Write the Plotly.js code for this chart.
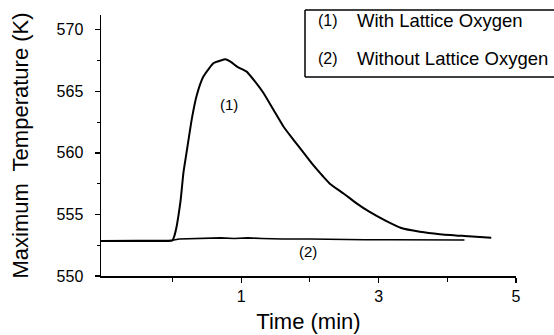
<!DOCTYPE html>
<html>
<head>
<meta charset="utf-8">
<script src="https://cdn.plot.ly/plotly-3.0.1.min.js"></script>
<style>html,body{margin:0;padding:0;background:#fff;}#chart{width:554px;height:335px;}</style>
</head>
<body>
<div id="chart"></div>
<script>
// Series (1) With Lattice Oxygen
const time1 = [-1.04, -0.5, 0.0, 0.03, 0.06, 0.09, 0.12, 0.16, 0.21, 0.28, 0.35, 0.45, 0.6, 0.7, 0.77, 0.85, 0.94, 1.08, 1.2, 1.32, 1.47, 1.62, 1.77, 1.91, 2.05, 2.19, 2.29, 2.49, 2.68, 2.87, 3.1, 3.33, 3.6, 3.89, 4.25, 4.64];
const temp1 = [552.85, 552.85, 552.9, 553.3, 554.0, 555.0, 556.2, 558.4, 560.2, 562.7, 564.6, 566.2, 567.3, 567.5, 567.6, 567.4, 567.0, 566.6, 565.8, 564.9, 563.5, 562.1, 561.0, 560.0, 559.0, 558.1, 557.5, 556.7, 555.9, 555.2, 554.5, 553.9, 553.6, 553.4, 553.25, 553.1];
// Series (2) Without Lattice Oxygen
const time2 = [-1.04, -0.5, 0.0, 0.1, 0.3, 0.5, 0.7, 0.9, 1.1, 1.3, 1.6, 2.0, 2.4, 2.8, 3.2, 3.6, 4.0, 4.25];
const temp2 = [552.85, 552.85, 552.9, 553.0, 553.05, 553.05, 553.1, 553.05, 553.1, 553.05, 553.0, 553.0, 552.95, 552.95, 552.95, 552.95, 552.93, 552.93];
const xTickVals = [1, 3, 5];
const xTickText = ['1', '3', '5'];
const yTickVals = [550, 555, 560, 565, 570];
const legendLabels = ['(1)', '(2)'];
const legendNames = ['With Lattice Oxygen', 'Without Lattice Oxygen'];
const curveLabels = ['(1)', '(2)'];

const font = 'Liberation Sans, Arial, sans-serif';
const traces = [
  {x: time1, y: temp1, mode: 'lines', line: {color: '#000', width: 2, shape: 'spline', smoothing: 0.5}, hoverinfo: 'skip'},
  {x: time2, y: temp2, mode: 'lines', line: {color: '#000', width: 1.6}, hoverinfo: 'skip'}
];
const annotations = [
  {x: 0.83, y: 563.9, xref: 'x', yref: 'y', text: curveLabels[0], showarrow: false, font: {family: font, size: 15, color: '#000'}},
  {x: 1.97, y: 551.98, xref: 'x', yref: 'y', text: curveLabels[1], showarrow: false, font: {family: font, size: 15, color: '#000'}}
];
const rowY = [1 - (21 - 15) / 261, 1 - (59 - 15) / 261];
for (let i = 0; i < 2; i++) {
  annotations.push({x: (316 - 101) / 415, y: rowY[i], xref: 'paper', yref: 'paper', xanchor: 'left', yanchor: 'middle', text: legendLabels[i], showarrow: false, font: {family: font, size: 16, color: '#000'}});
  annotations.push({x: (355 - 101) / 415, y: rowY[i], xref: 'paper', yref: 'paper', xanchor: 'left', yanchor: 'middle', text: legendNames[i], showarrow: false, font: {family: font, size: 18.5, color: '#000'}});
}
const bx0 = (305 - 101) / 415, bx1 = 1.2, by0 = (276 - 77) / 261, by1 = (276 - 10) / 261;
const boxLine = {color: '#000', width: 1.5};
const layout = {
  width: 554, height: 335,
  margin: {l: 101, r: 38, t: 15, b: 59, pad: 0},
  paper_bgcolor: '#fff', plot_bgcolor: '#fff',
  showlegend: false,
  font: {family: font, color: '#000'},
  xaxis: {
    range: [-1.04, 5], showgrid: false, zeroline: false,
    showline: true, linecolor: '#000', linewidth: 1.5,
    tickmode: 'array', tickvals: xTickVals, ticktext: xTickText,
    ticks: 'outside', ticklen: 5, tickwidth: 1.3, tickcolor: '#000',
    minor: {tickmode: 'array', tickvals: [0, 2, 4], ticks: 'outside', ticklen: 4, tickwidth: 1.2, tickcolor: '#000'},
    tickfont: {family: font, size: 16, color: '#000'},
    title: {text: 'Time (min)', font: {family: font, size: 22, color: '#000'}, standoff: 10}
  },
  yaxis: {
    range: [550, 571.2], showgrid: false, zeroline: false,
    showline: true, linecolor: '#000', linewidth: 1.5,
    tickmode: 'array', tickvals: yTickVals,
    ticks: 'outside', ticklen: 5, tickwidth: 1.3, tickcolor: '#000',
    ticklabelstandoff: 8,
    minor: {tickmode: 'array', tickvals: [552.5, 557.5, 562.5, 567.5], ticks: 'outside', ticklen: 3, tickwidth: 1.2, tickcolor: '#000'},
    tickfont: {family: font, size: 16, color: '#000'},
    title: {text: 'Maximum  Temperature (K)', font: {family: font, size: 22, color: '#000'}, standoff: 22}
  },
  shapes: [
    {type: 'line', xref: 'paper', yref: 'paper', x0: bx0, x1: bx0, y0: by0, y1: by1, line: boxLine, layer: 'above'},
    {type: 'line', xref: 'paper', yref: 'paper', x0: bx0, x1: bx1, y0: by1, y1: by1, line: boxLine, layer: 'above'},
    {type: 'line', xref: 'paper', yref: 'paper', x0: bx0, x1: bx1, y0: by0, y1: by0, line: boxLine, layer: 'above'}
  ],
  annotations: annotations
};
Plotly.newPlot('chart', traces, layout, {displayModeBar: false, staticPlot: true});
</script>
</body>
</html>
